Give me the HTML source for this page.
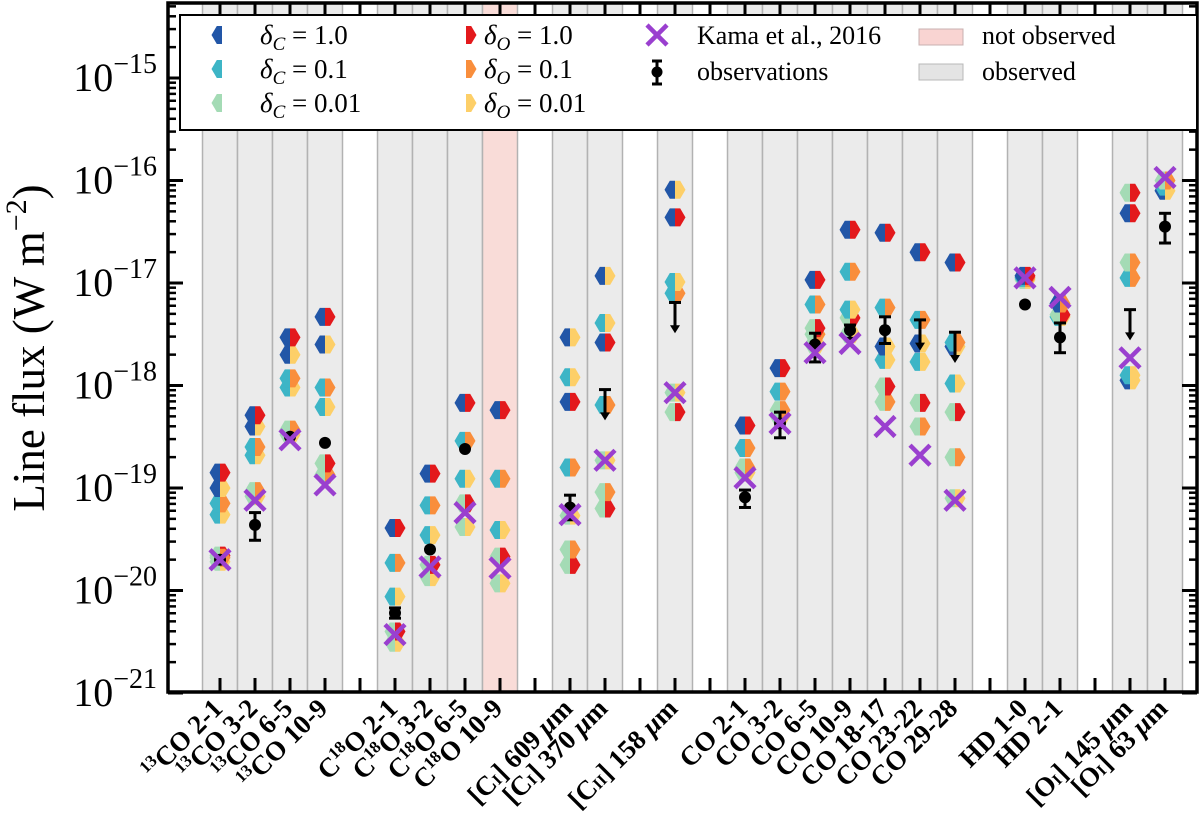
<!DOCTYPE html>
<html><head><meta charset="utf-8">
<style>
html,body{margin:0;padding:0;background:#fff;}
svg{display:block;font-family:"Liberation Serif",serif;}
svg text{font-family:"Liberation Serif",serif;}
</style></head>
<body>
<svg id="chart" width="1200" height="825" viewBox="0 0 1200 825"></svg>
<script>
// ---------- data ----------
const categories = ["13CO 2-1","13CO 3-2","13CO 6-5","13CO 10-9","C18O 2-1","C18O 3-2","C18O 6-5","C18O 10-9","[CI] 609","[CI] 370","[CII] 158","CO 2-1","CO 3-2","CO 6-5","CO 10-9","CO 18-17","CO 23-22","CO 29-28","HD 1-0","HD 2-1","[OI] 145","[OI] 63"];
const slots = [0,1,2,3,5,6,7,8,10,11,13,15,16,17,18,19,20,21,23,24,26,27];
const observed = [1,1,1,1,1,1,1,0,1,1,1,1,1,1,1,1,1,1,1,1,1,1];
// model values: [deltaC index, deltaO index, log10 flux]
const models = [
 [[2,2,-19.72],[2,0,-19.66],[2,1,-19.68],[1,2,-19.26],[1,1,-19.15],[0,2,-19.0],[0,0,-18.85]],
 [[2,2,-19.08],[2,1,-19.03],[1,2,-18.68],[1,1,-18.6],[0,2,-18.4],[0,0,-18.29]],
 [[2,2,-18.48],[2,1,-18.43],[1,2,-18.02],[1,1,-17.93],[0,2,-17.7],[0,0,-17.53]],
 [[2,1,-18.87],[2,0,-18.76],[1,2,-18.21],[1,1,-18.02],[0,2,-17.6],[0,0,-17.33]],
 [[2,2,-20.51],[2,0,-20.4],[1,2,-20.06],[1,1,-19.73],[0,0,-19.39]],
 [[2,2,-19.87],[2,0,-19.75],[1,2,-19.46],[1,1,-19.17],[0,0,-18.86]],
 [[2,2,-19.38],[2,0,-19.15],[1,2,-18.91],[1,1,-18.54],[0,0,-18.17]],
 [[2,2,-19.93],[2,0,-19.67],[1,2,-19.41],[1,1,-18.91],[0,0,-18.24]],
 [[2,0,-19.75],[2,1,-19.6],[2,2,-19.27],[1,1,-18.8],[0,0,-18.16],[1,2,-17.92],[0,2,-17.53]],
 [[2,0,-19.2],[2,1,-19.04],[2,2,-18.73],[1,1,-18.19],[0,0,-17.58],[1,2,-17.39],[0,2,-16.93]],
 [[2,0,-18.26],[2,2,-18.07],[1,1,-17.1],[1,2,-16.99],[0,0,-16.36],[0,2,-16.09]],
 [[2,2,-18.85],[2,1,-18.8],[1,1,-18.61],[0,0,-18.39]],
 [[2,2,-18.3],[2,1,-18.24],[1,1,-18.06],[0,0,-17.83]],
 [[2,2,-17.6],[2,1,-17.5],[2,0,-17.44],[1,1,-17.21],[0,0,-16.97]],
 [[2,2,-17.5],[2,0,-17.34],[1,2,-17.26],[1,1,-16.89],[0,0,-16.48]],
 [[2,1,-18.16],[2,0,-18.01],[1,2,-17.75],[0,2,-17.62],[1,1,-17.24],[0,0,-16.51]],
 [[2,1,-18.4],[2,0,-18.17],[1,2,-17.77],[0,2,-17.59],[1,1,-17.36],[0,0,-16.7]],
 [[2,2,-19.1],[2,1,-18.7],[2,0,-18.26],[1,2,-17.98],[0,2,-17.62],[1,1,-17.58],[0,0,-16.8]],
 [[2,2,-16.97],[1,1,-16.95],[0,0,-16.93]],
 [[1,2,-17.33],[2,0,-17.31],[0,1,-17.2]],
 [[0,2,-17.95],[1,2,-17.9],[1,1,-16.95],[2,1,-16.8],[0,0,-16.32],[2,0,-16.12]],
 [[0,2,-16.1],[1,2,-16.06],[2,1,-16.0]]
];
const kamaValues = [-19.7,-19.12,-18.53,-18.97,-20.43,-19.77,-19.24,-19.78,-19.26,-18.73,-18.07,-18.9,-18.37,-17.68,-17.59,-18.4,-18.68,-19.12,-16.95,-17.14,-17.73,-15.97];
const obsValues = [-19.7,-19.36,-18.5,-18.56,-20.22,-19.6,-18.62,null,-19.19,-18.04,-17.19,-19.09,-18.37,-17.6,-17.46,-17.46,-17.36,-17.48,-17.21,-17.53,-17.26,-16.45];
const obsErrLo = [0,0.15,0,0,0.05,0,0,0,0.12,0,0,0.1,0.14,0.17,0.08,0.13,0,0,0,0.15,0,0.16];
const obsErrHi = [0,0.12,0,0,0.05,0,0,0,0.12,0,0,0.07,0.11,0.11,0.05,0.13,0,0,0,0.14,0,0.13];
const upperLimit = [0,0,0,0,0,0,0,0,0,1,1,0,0,0,0,0,1,1,0,0,1,0];
const yTickExps = [-15,-16,-17,-18,-19,-20,-21];
const cColors = ["#2256a7","#3db5c6","#a4dbb5"];
const oColors = ["#e3191c","#f98e3c","#fdcf68"];

// ---------- axes ----------
const L=168,R=1197,T=3,B=692;
const sx = s => 220 + s*35;
const sy = v => 78 + (-15 - v)*102.5;
const NS="http://www.w3.org/2000/svg";
const svg=document.getElementById('chart');
function mk(tag,attrs,parent){const e=document.createElementNS(NS,tag);for(const k in attrs)e.setAttribute(k,attrs[k]);if(tag==='text')e.setAttribute('font-family','Liberation Serif, serif');(parent||svg).appendChild(e);return e;}

// bands
slots.forEach((s,i)=>{
  const r=mk('rect',{x:sx(s)-17.5,y:T,width:35,height:B-T,fill:observed[i]?'#ebebeb':'#f9dcd8',stroke:'#b2b2b2','stroke-width':1.5});
  
  
});

function half(cx,cy,side,color,g){
  const w=10.5,h=9,q=5.2;
  const pts = side<0 ? [[0,-h],[-q,-h],[-w,0],[-q,h],[0,h]] : [[0,-h],[q,-h],[w,0],[q,h],[0,h]];
  return mk('polygon',{points:pts.map(p=>(cx+p[0])+','+(cy+p[1])).join(' '),fill:color},g);
}
const gm=mk('g',{});


models.forEach((list,i)=>{
  const x=sx(slots[i]);
  list.forEach(m=>{
    const g=mk('g',{},gm);
    
    
    half(x,sy(m[2]),-1,cColors[m[0]],g);
    half(x,sy(m[2]),1,oColors[m[1]],g);
  });
});

// observations
obsValues.forEach((v,i)=>{
  if(v===null)return;
  const x=sx(slots[i]);const y=sy(v);
  const g=mk('g',{});
  
  
  if(upperLimit[i]){
    const y2=sy(v-0.3);
    mk('line',{x1:x-6,x2:x+6,y1:y,y2:y,stroke:'#000','stroke-width':3},g);
    mk('line',{x1:x,x2:x,y1:y,y2:y2-6,stroke:'#000','stroke-width':3},g);
    mk('polygon',{points:`${x-5},${y2-8} ${x+5},${y2-8} ${x},${y2}`,fill:'#000'},g);
  }else{
    if(obsErrLo[i]||obsErrHi[i]){
      const yl=sy(v-obsErrLo[i]),yh=sy(v+obsErrHi[i]);
      mk('line',{x1:x,x2:x,y1:yh,y2:yl,stroke:'#000','stroke-width':3},g);
      mk('line',{x1:x-6,x2:x+6,y1:yh,y2:yh,stroke:'#000','stroke-width':3},g);
      mk('line',{x1:x-6,x2:x+6,y1:yl,y2:yl,stroke:'#000','stroke-width':3},g);
    }
    mk('circle',{cx:x,cy:y,r:6,fill:'#000'},g);
  }
});

// Kama crosses
kamaValues.forEach((v,i)=>{
  const x=sx(slots[i]),y=sy(v),d=10;
  const g=mk('g',{stroke:'#9a3fcf','stroke-width':4.5});
  
  
  mk('line',{x1:x-d,y1:y-d,x2:x+d,y2:y+d},g);
  mk('line',{x1:x-d,y1:y+d,x2:x+d,y2:y-d},g);
});

// frame & ticks
const ax=mk('g',{stroke:'#000'});


mk('rect',{x:L,y:T,width:R-L,height:B-T,fill:'none','stroke-width':3.5},ax);
yTickExps.forEach(e=>{
  const y=sy(e);
  mk('line',{x1:L,x2:L+15,y1:y,y2:y,'stroke-width':3},ax);
  mk('line',{x1:R-15,x2:R,y1:y,y2:y,'stroke-width':3},ax);
  for(let k=2;k<=9;k++){
    const ym=sy(e+Math.log10(k));
    if(ym<T)continue;
    mk('line',{x1:L,x2:L+8,y1:ym,y2:ym,'stroke-width':2.5},ax);
    mk('line',{x1:R-8,x2:R,y1:ym,y2:ym,'stroke-width':2.5},ax);
  }
  const t=mk('text',{x:157,y:y+13,'text-anchor':'end','font-size':40,fill:'#000',stroke:'none'});
  
  
  t.innerHTML='10<tspan dy="-18" font-size="28">−'+(-e)+'</tspan>';
});
for(let s=0;s<=27;s++){
  const x=sx(s);
  mk('line',{x1:x,x2:x,y1:B,y2:B-14,'stroke-width':3},ax);
  mk('line',{x1:x,x2:x,y1:T,y2:T+14,'stroke-width':3},ax);
}

// x labels
const labelHtml = [
 '<tspan font-size="17" dy="-10">13</tspan><tspan dy="10">CO 2-1</tspan>',
 '<tspan font-size="17" dy="-10">13</tspan><tspan dy="10">CO 3-2</tspan>',
 '<tspan font-size="17" dy="-10">13</tspan><tspan dy="10">CO 6-5</tspan>',
 '<tspan font-size="17" dy="-10">13</tspan><tspan dy="10">CO 10-9</tspan>',
 'C<tspan font-size="17" dy="-10">18</tspan><tspan dy="10">O 2-1</tspan>',
 'C<tspan font-size="17" dy="-10">18</tspan><tspan dy="10">O 3-2</tspan>',
 'C<tspan font-size="17" dy="-10">18</tspan><tspan dy="10">O 6-5</tspan>',
 'C<tspan font-size="17" dy="-10">18</tspan><tspan dy="10">O 10-9</tspan>',
 '[C<tspan font-size="16">I</tspan>] 609 <tspan font-style="italic">μ</tspan>m',
 '[C<tspan font-size="16">I</tspan>] 370 <tspan font-style="italic">μ</tspan>m',
 '[C<tspan font-size="16">II</tspan>] 158 <tspan font-style="italic">μ</tspan>m',
 'CO 2-1','CO 3-2','CO 6-5','CO 10-9','CO 18-17','CO 23-22','CO 29-28',
 'HD 1-0','HD 2-1',
 '[O<tspan font-size="16">I</tspan>] 145 <tspan font-style="italic">μ</tspan>m',
 '[O<tspan font-size="16">I</tspan>] 63 <tspan font-style="italic">μ</tspan>m'
];
slots.forEach((s,i)=>{
  const x=sx(s)+4,y=710;
  const t=mk('text',{x:x,y:y,'text-anchor':'end','font-size':27,'font-weight':'bold',transform:`rotate(-45 ${x} ${y})`});
  
  
  t.innerHTML=labelHtml[i];
});

// y axis title
const yt=mk('text',{x:44,y:348,'text-anchor':'middle','font-size':45,transform:'rotate(-90 44 348)'});


yt.innerHTML='Line flux (W m<tspan dy="-18" font-size="30">−2</tspan><tspan dy="18">)</tspan>';

// legend
const lg=mk('g',{});


mk('rect',{x:180,y:15,width:1017,height:115,fill:'#fff',stroke:'#000','stroke-width':2},lg);
const rows=[35,69,103];
const cVals=['1.0','0.1','0.01'];
rows.forEach((y,k)=>{
  const e1=mk('g',{},lg);
  
  
  half(222,y,-1,cColors[k],e1);
  const t1=mk('text',{x:260,y:y+9,'font-size':27},e1);
  t1.innerHTML='<tspan font-style="italic">δ</tspan><tspan font-style="italic" font-size="19" dy="6">C</tspan><tspan dy="-6"> = '+cVals[k]+'</tspan>';
  const e2=mk('g',{},lg);
  
  
  half(466,y,1,oColors[k],e2);
  const t2=mk('text',{x:484,y:y+9,'font-size':27},e2);
  t2.innerHTML='<tspan font-style="italic">δ</tspan><tspan font-style="italic" font-size="19" dy="6">O</tspan><tspan dy="-6"> = '+cVals[k]+'</tspan>';
});
const ek=mk('g',{},lg);


mk('line',{x1:647,y1:25,x2:667,y2:45,stroke:'#9a3fcf','stroke-width':4.5},ek);
mk('line',{x1:647,y1:45,x2:667,y2:25,stroke:'#9a3fcf','stroke-width':4.5},ek);
mk('text',{x:697,y:44,'font-size':26},ek).textContent='Kama et al., 2016';
const eo=mk('g',{},lg);


mk('line',{x1:657,x2:657,y1:61,y2:84,stroke:'#000','stroke-width':3},eo);
mk('line',{x1:652,x2:662,y1:61,y2:61,stroke:'#000','stroke-width':3},eo);
mk('line',{x1:652,x2:662,y1:84,y2:84,stroke:'#000','stroke-width':3},eo);
mk('circle',{cx:657,cy:72,r:5.5,fill:'#000'},eo);
mk('text',{x:697,y:80,'font-size':26},eo).textContent='observations';
const en=mk('g',{},lg);


mk('rect',{x:919,y:29,width:44,height:16,fill:'#f9d4d2',stroke:'#c8b0b0','stroke-width':1},en);
mk('text',{x:982,y:44,'font-size':26},en).textContent='not observed';
const eb=mk('g',{},lg);


mk('rect',{x:919,y:64,width:44,height:16,fill:'#e4e4e4',stroke:'#b8b8b8','stroke-width':1},eb);
mk('text',{x:982,y:80,'font-size':26},eb).textContent='observed';
</script>
</body></html>
